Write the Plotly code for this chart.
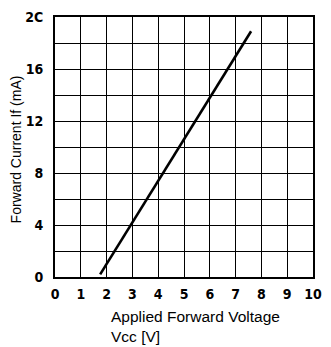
import plotly.graph_objects as go

# Forward current vs. applied forward voltage
vcc = [1.75, 7.6]
i_f = [0.2, 18.9]

x_ticks = [0, 1, 2, 3, 4, 5, 6, 7, 8, 9, 10]
y_ticks = [0, 4, 8, 12, 16, 20]
y_tick_text = ["0", "4", "8", "12", "16", "2C"]

tick_font = dict(family="DejaVu Sans Condensed, Liberation Sans Narrow, sans-serif",
                 size=14, color="black", weight="bold")

fig = go.Figure()
fig.add_trace(go.Scatter(x=vcc, y=i_f, mode="lines",
                         line=dict(color="black", width=2.6), showlegend=False))

fig.update_xaxes(range=[0, 10], tickvals=x_ticks, ticktext=[str(v) for v in x_ticks],
                 showgrid=True, gridcolor="black", gridwidth=1.4,
                 showline=True, linecolor="black", linewidth=2, mirror=True,
                 ticks="", tickfont=tick_font, ticklabelstandoff=3, zeroline=False)
fig.update_yaxes(range=[0, 20], tickvals=y_ticks, ticktext=y_tick_text,
                 showgrid=True, gridcolor="black", gridwidth=1.4,
                 minor=dict(dtick=2, showgrid=True, gridcolor="black", gridwidth=1.4),
                 showline=True, linecolor="black", linewidth=2, mirror=True,
                 ticks="", tickfont=tick_font, ticklabelstandoff=7, zeroline=False)

fig.add_annotation(text="Applied Forward Voltage<br>Vcc [V]", xref="paper", yref="paper",
                   x=0.21, y=-0.11, xanchor="left", yanchor="top", showarrow=False, align="left",
                   font=dict(family="Liberation Sans, Arial, sans-serif", size=15.5, color="black"))
fig.add_annotation(text="Forward Current If (mA)", xref="paper", yref="paper",
                   x=-0.152, y=0.49, xanchor="center", yanchor="middle", textangle=-90,
                   showarrow=False,
                   font=dict(family="Liberation Sans, Arial, sans-serif", size=14, color="black"))

fig.update_layout(width=331, height=347, margin=dict(l=55, r=9, t=13, b=70),
                  plot_bgcolor="white", paper_bgcolor="white")

fig.write_html("out.html")
